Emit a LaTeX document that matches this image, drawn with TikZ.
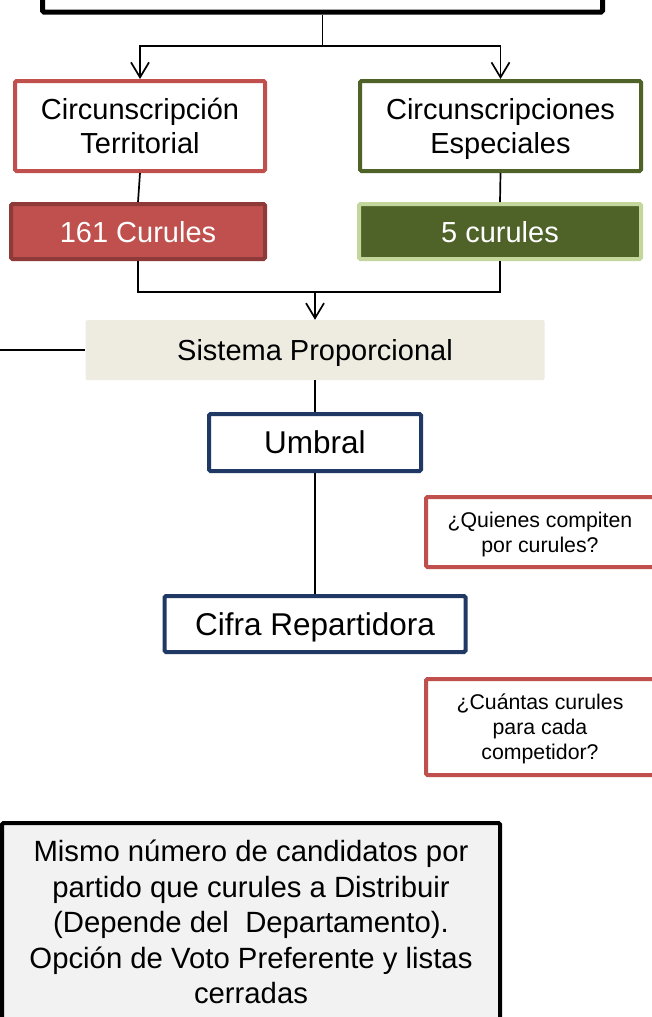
\documentclass[tikz,border=0pt]{standalone}
\usepackage{fontspec}
\setmainfont{Liberation Sans}
\usetikzlibrary{arrows.meta}
\definecolor{cred}{HTML}{C0504D}
\definecolor{cdred}{HTML}{8E3A38}
\definecolor{cgreen}{HTML}{4F6228}
\definecolor{clgreen}{HTML}{C3D69B}
\definecolor{cnavy}{HTML}{1F3864}
\definecolor{csist}{HTML}{EEECE1}
\definecolor{cgray}{HTML}{F2F2F2}
\tikzset{
  box/.style={rectangle, inner sep=0pt, align=center, rounded corners=1.5pt, text depth=0pt},
  bigtxt/.style={font=\fontsize{29}{34}\selectfont},
  redbox/.style={box, bigtxt, draw=cred, line width=4pt, fill=white},
  greenbox/.style={box, bigtxt, draw=cgreen, line width=4pt, fill=white},
  navybox/.style={box, font=\fontsize{31.5}{36}\selectfont, draw=cnavy, line width=4pt, fill=white},
  qbox/.style={box, font=\fontsize{21.3}{25}\selectfont, draw=cred, line width=4pt, fill=white},
  conn/.style={line width=1.7pt, draw=black},
  arr/.style={conn, -{Straight Barb[length=15pt,width=18pt,line width=1.7pt]}}
}
\begin{document}
\begin{tikzpicture}[x=1pt,y=-1pt]
\useasboundingbox (0,0) rectangle (652,1017);
\fill[white] (0,0) rectangle (652,1017);
% top box
\node[box, draw=black, line width=5pt, fill=white, minimum width=560pt, minimum height=32pt] (top) at (322.5,-4) {};
% second row
\node[redbox, minimum width=250pt, minimum height=90pt] (terr) at (140,126) {Circunscripción\\ Territorial};
\node[greenbox, minimum width=281pt, minimum height=90pt] (esp) at (500.5,126) {Circunscripciones\\ Especiales};
\node[box, bigtxt, text=white, fill=cred, draw=cdred, line width=4pt, minimum width=254pt, minimum height=55pt] (c161) at (138,231.5) {161 Curules};
\node[box, bigtxt, text=white, fill=cgreen, draw=clgreen, line width=4pt, minimum width=282pt, minimum height=55pt] (c5) at (500,231.5) {5 curules};
\node[box, bigtxt, fill=csist, minimum width=459pt, minimum height=60pt] (sist) at (315,350) {Sistema Proporcional};
\node[navybox, minimum width=212pt, minimum height=57pt] (umb) at (315,442.5) {Umbral};
\node[navybox, minimum width=301pt, minimum height=56pt] (cif) at (315,624) {Cifra Repartidora};
\node[qbox, minimum width=228pt, minimum height=70pt] (qui) at (540,532) {¿Quienes compiten\\ por curules?};
\node[qbox, minimum width=228pt, minimum height=96pt] (cua) at (540,727) {¿Cuántas curules\\ para cada\\ competidor?};
\node[box, font=\fontsize{29.3}{35.5}\selectfont, draw=black, line width=4pt, fill=cgray, minimum width=498pt, minimum height=198pt] (mis) at (251,922) {Mismo número de candidatos por\\ partido que curules a Distribuir\\ (Depende del\ \ Departamento).\\ Opción de Voto Preferente y listas\\ cerradas};
% connectors
\coordinate (j1) at (322.5,46);
\coordinate (j2) at (315,292);
\coordinate (lft) at (0,350);
\draw[conn] (top.south) -- (j1);
\draw[arr] (j1) -| (terr.north);
\draw[arr] (j1) -| (esp.north);
\draw[conn] (terr.south) -- (c161.north);
\draw[conn] (esp.south) -- (c5.north);
\draw[conn] (c161.south) |- (j2);
\draw[conn] (c5.south) |- (j2);
\draw[arr] (j2) -- (sist.north);
\draw[conn] (lft) -- (sist.west);
\draw[conn] (sist.south) -- (umb.north);
\draw[conn] (umb.south) -- (cif.north);
\end{tikzpicture}
\end{document}
